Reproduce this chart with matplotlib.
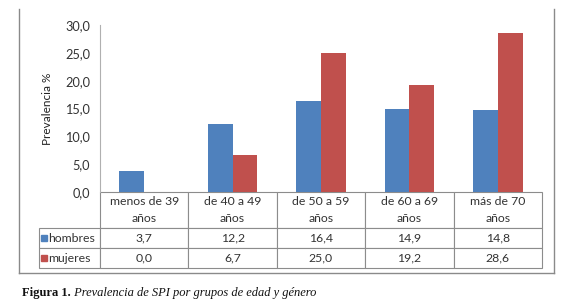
import matplotlib
matplotlib.use("Agg")
import matplotlib.pyplot as plt
from matplotlib.patches import Rectangle
from matplotlib.lines import Line2D
import numpy as np

categories = ["menos de 39\naños", "de 40 a 49\naños", "de 50 a 59\naños",
              "de 60 a 69\naños", "más de 70\naños"]
hombres = [3.7, 12.2, 16.4, 14.9, 14.8]
mujeres = [0.0, 6.7, 25.0, 19.2, 28.6]
series_names = ["hombres", "mujeres"]
yticks = [0, 5, 10, 15, 20, 25, 30]

blue = "#4F81BD"
red = "#C0504D"
grid_col = "#8C8C8C"
txt_col = "#333333"

plt.rcParams['font.family'] = ['Lato', 'DejaVu Sans']


def fmt(v):
    return f"{v:.1f}".replace(".", ",")


fig = plt.figure(figsize=(5.76, 3.05), dpi=100)
W, H = 576.0, 305.0
# plot area in pixels: x 100..542, y 25..192
ax = fig.add_axes([100 / W, 1 - 192 / H, 442 / W, 167 / H])

x = np.arange(len(categories))
bw = 0.28
ax.bar(x - bw / 2, hombres, bw, color=blue, zorder=2)
ax.bar(x + bw / 2, mujeres, bw, color=red, zorder=2)

ax.set_xlim(-0.5, len(categories) - 0.5)
ax.set_ylim(0, 30)
ax.set_yticks(yticks)
ax.set_yticklabels([fmt(v) for v in yticks], fontsize=9.2, color=txt_col)
ax.tick_params(axis="y", length=0, pad=7)
ax.set_xticks([])
for s in ["top", "right", "bottom"]:
    ax.spines[s].set_visible(False)
ax.spines["left"].set_color("#B0B0B0")
ax.spines["left"].set_linewidth(0.8)
ax.set_ylabel("Prevalencia %", fontsize=8.5, color="#222222", labelpad=9)

# data table under the axes
cell_text = [[name] + [fmt(v) for v in vals]
             for name, vals in zip(series_names, [hombres, mujeres])]
lw, cw = 61, 88.4
tbl = ax.table(cellText=cell_text, colLabels=[""] + categories,
               colWidths=[lw] + [cw] * len(categories), cellLoc="center",
               bbox=[-61 / 442, -76 / 167, 503 / 442, 76 / 167])
tbl.auto_set_font_size(False)
tbl.set_fontsize(8.8)
for (r, c), cell in tbl.get_celld().items():
    cell.set_edgecolor(grid_col)
    cell.set_linewidth(0.8)
    cell.get_text().set_color(txt_col)
    cell.set_height(36 if r == 0 else 20)
    if r == 0:
        cell.get_text().set_linespacing(1.65)
    if r == 0 and c == 0:
        cell.visible_edges = ""
    elif c == 0:
        cell._loc = "left"
        cell.get_text().set_ha("left")
        cell.PAD = 0.15

# legend keys in the row labels
for i, col in enumerate([blue, red]):
    yc = -(46 + 20 * i) / 167
    ax.add_patch(Rectangle((-59 / 442, yc - 2.7 / 167), 5.5 / 442, 5.5 / 167,
                           transform=ax.transAxes, color=col, clip_on=False, zorder=20))

# outer chart frame (no top edge)
fx0, fx1, fy0, fy1 = 19 / W, 554 / W, 1 - 273 / H, 1 - 9 / H
for xs, ys in [([fx0, fx0], [fy0, fy1]), ([fx1, fx1], [fy0, fy1]), ([fx0, fx1], [fy0, fy0])]:
    fig.add_artist(Line2D(xs, ys, color="#8A8A8A", linewidth=1.0))

# caption
cap = fig.text(22 / W, 1 - 293 / H, "Figura 1.", fontsize=9, fontweight="bold",
               family="Liberation Serif", va="center", color="#111111")
ax.annotate(" Prevalencia de SPI por grupos de edad y género", xy=(1, 0.5),
            xycoords=cap, va="center", ha="left", fontsize=9, style="italic",
            family="Liberation Serif", color="#111111", annotation_clip=False)

fig.savefig("out.png", dpi=100)
